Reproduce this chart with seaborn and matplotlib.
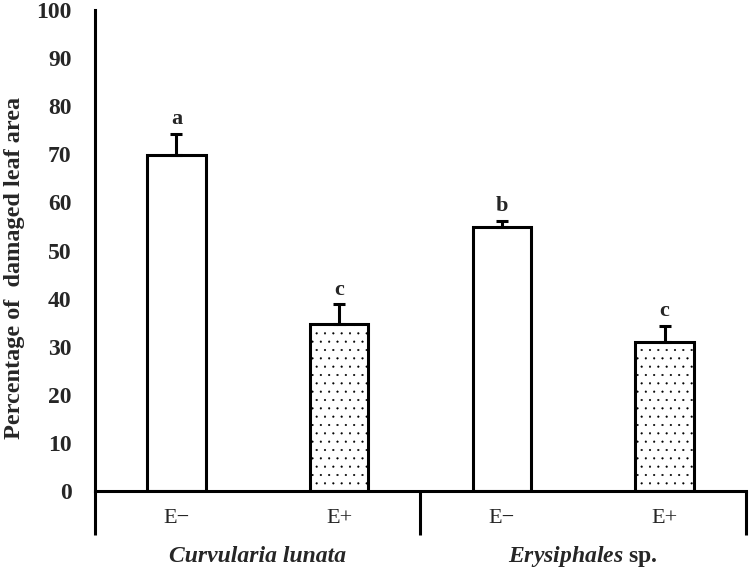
import matplotlib
matplotlib.use("Agg")
import matplotlib.pyplot as plt
import matplotlib.transforms as mtransforms
import numpy as np
import pandas as pd
import seaborn as sns

# data
groups = ["Curvularia lunata", "Curvularia lunata", "Erysiphales sp.", "Erysiphales sp."]
treatments = ["E\u2212", "E+", "E\u2212", "E+"]
damage = [69.8, 34.8, 54.8, 31.0]
damage_err = [4.5, 4.0, 1.3, 3.3]
letters = ["a", "c", "b", "c"]
hatches = ["", "..", "", ".."]

df = pd.DataFrame({
    "bar": [f"{g} {t}" for g, t in zip(groups, treatments)],
    "damage": damage,
})

sns.set_theme(style="white")
plt.rcParams["font.family"] = ["Liberation Serif", "DejaVu Serif"]
plt.rcParams["mathtext.fontset"] = "custom"
plt.rcParams["mathtext.bfit"] = "Liberation Serif:italic:bold"
plt.rcParams["mathtext.it"] = "Liberation Serif:italic:bold"
plt.rcParams["hatch.linewidth"] = 0.3
plt.rcParams["hatch.color"] = "#333333"

fig = plt.figure(figsize=(7.51, 5.73), dpi=100)
ax = fig.add_axes([0.1265, 0.1431, 0.8668, 0.8394])

sns.barplot(data=df, x="bar", y="damage", order=df["bar"], color="white",
            edgecolor="black", linewidth=2.2, width=0.36, ax=ax)

for patch, h in zip(ax.patches, hatches):
    patch.set_hatch(h)
    patch.set_facecolor("white")

xs = np.array([p.get_x() + p.get_width() / 2 for p in ax.patches])
ax.errorbar(xs, damage, yerr=[np.zeros(len(damage)), damage_err], fmt="none",
            ecolor="black", elinewidth=2.2, capsize=4, capthick=2.2, zorder=1)

for x, y, e, lab in zip(xs, damage, damage_err, letters):
    ax.text(x, y + e + 1.0, lab, ha="center", va="bottom",
            fontsize=16, fontweight="bold")

ax.set_ylim(0, 100)
ax.set_xlim(-0.5, len(damage) - 0.5)
ax.set_yticks(range(0, 101, 10))
ax.tick_params(axis="y", direction="in", length=6, width=2.2, labelsize=17, pad=17)
for lbl in ax.get_yticklabels():
    lbl.set_fontweight("bold")
ax.set_xticks([])
ax.set_xlabel("")
ax.set_ylabel("Percentage of  damaged leaf area", fontsize=17.5, fontweight="bold")
ax.yaxis.set_label_coords(-0.1075, 0.464)

for side in ["top", "right"]:
    ax.spines[side].set_visible(False)
for side in ["left", "bottom"]:
    ax.spines[side].set_linewidth(2.2)
    ax.spines[side].set_color("black")

# category labels and group separators under the axis
trans = mtransforms.blended_transform_factory(ax.transData, ax.transAxes)
for x, t in zip(xs, treatments):
    ax.text(x, -0.058, t, transform=trans, ha="center", va="center", fontsize=16)

for sep in [-0.5, 1.5, len(damage) - 0.5]:
    ax.plot([sep, sep], [0, -0.092], transform=trans, color="black",
            lw=2.2, clip_on=False, solid_capstyle="butt")

ax.text(0.5, -0.137, "Curvularia lunata", transform=trans, ha="center",
        va="center", fontsize=17, fontweight="bold", style="italic")
ax.text(2.5, -0.137, r"$\mathbfit{Erysiphales}$ sp.", transform=trans,
        ha="center", va="center", fontsize=17, fontweight="bold")

fig.savefig("out.png", dpi=100, facecolor="white")
